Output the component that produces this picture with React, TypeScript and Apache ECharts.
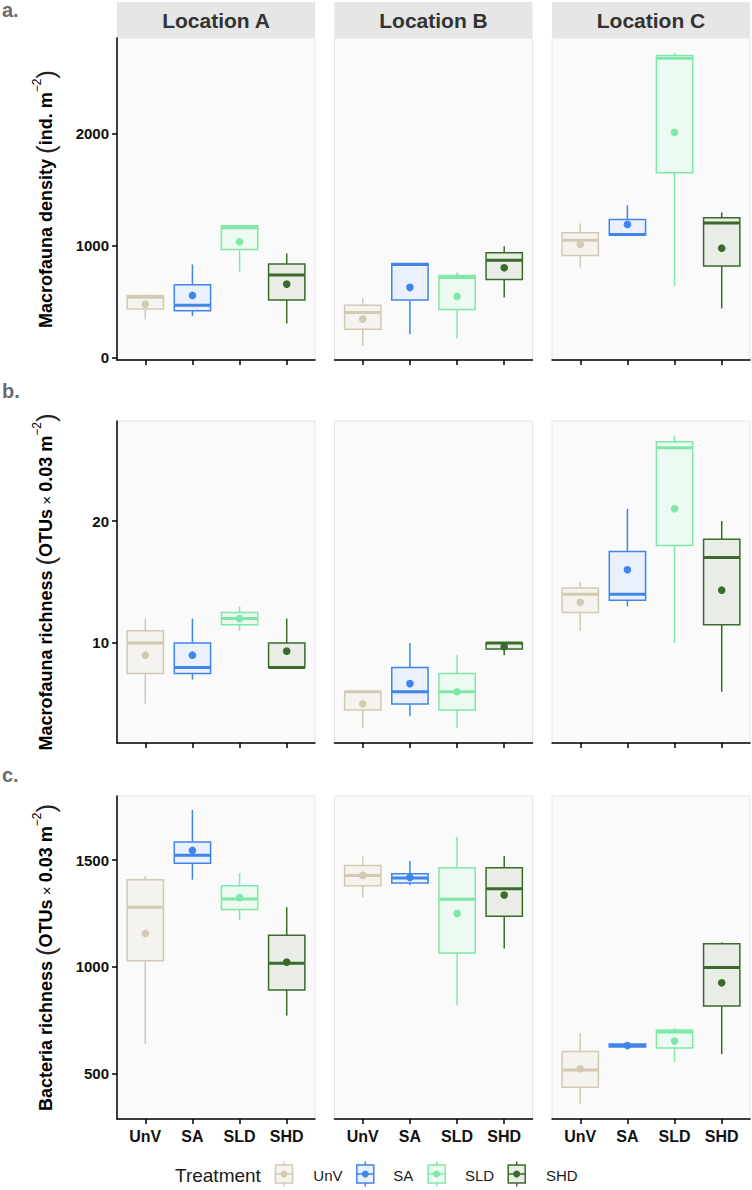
import React, { useEffect, useRef } from "react";
import * as echarts from "echarts";

// ---------------- DATA ----------------
const treatments = ["UnV", "SA", "SLD", "SHD"];
const locations = ["Location A", "Location B", "Location C"];
// each row: [min, q1, median, q3, max, mean]
const densityA = [[343, 435, 540, 557, 566, 479], [372, 420, 470, 652, 834, 557], [768, 968, 1161, 1179, 1179, 1036], [307, 516, 739, 837, 932, 658]];
const densityB = [[107, 254, 405, 470, 530, 345], [209, 515, 834, 843, 843, 629], [173, 432, 718, 736, 762, 548], [539, 700, 872, 938, 997, 804]];
const densityC = [[807, 914, 1051, 1116, 1200, 1012], [1096, 1096, 1102, 1236, 1363, 1191], [640, 1652, 2676, 2700, 2727, 2013], [441, 819, 1205, 1250, 1298, 979]];
const macroRichA = [[5, 7.5, 10, 11, 12, 9], [7, 7.5, 8, 10, 12, 9], [11, 11.5, 12, 12.5, 13, 12], [8, 8, 8, 10, 12, 9.33]];
const macroRichB = [[3, 4.5, 6, 6, 6, 5], [4, 5, 6, 8, 10, 6.67], [3, 4.5, 6, 7.5, 9, 6], [9, 9.5, 10, 10, 10, 9.7]];
const macroRichC = [[11, 12.5, 14, 14.5, 15, 13.33], [13, 13.5, 14, 17.5, 21, 16], [10, 18, 26, 26.5, 27, 21], [6, 11.5, 17, 18.5, 20, 14.33]];
const bactRichA = [[639, 1028, 1279, 1408, 1425, 1156], [1408, 1485, 1523, 1584, 1735, 1545], [1218, 1268, 1318, 1380, 1438, 1324], [771, 891, 1017, 1148, 1279, 1022]];
const bactRichB = [[1327, 1380, 1428, 1474, 1517, 1428], [1382, 1393, 1416, 1436, 1495, 1418], [820, 1065, 1316, 1464, 1609, 1250], [1086, 1237, 1366, 1464, 1519, 1336]];
const bactRichC = [[358, 436, 517, 603, 689, 522], [624, 624, 631, 638, 638, 631], [553, 619, 695, 704, 712, 652], [591, 816, 997, 1108, 1114, 925]];

const densityTicks = [0, 1000, 2000];
const macroRichTicks = [10, 20];
const bactRichTicks = [500, 1000, 1500];
const densityRange = [-20, 2857];
const macroRichRange = [1.8, 28.2];
const bactRichRange = [287, 1800];

const rowLetters = ["a.", "b.", "c."];

// ---------------- STYLE ----------------
const strokeColors = ["#D2CAB3", "#3F85EA", "#7FE8A9", "#3A6B2B"];
const fillColors = ["#F5F3EF", "#EAF1FC", "#EDFAF2", "#E9ECE7"];
const FONT = "'Liberation Sans', Arial, Helvetica, sans-serif";

const colLeft = [117, 334.5, 552];
const colW = 198;
const rowTop = [38, 421, 796];
const rowH = [322, 322, 323];

export default function App() {
  const ref = useRef<HTMLDivElement>(null);

  useEffect(() => {
    if (!ref.current) return;
    const chart = echarts.init(ref.current, undefined, { renderer: "svg" });

    const rows = [
      { sets: [densityA, densityB, densityC], ticks: densityTicks, range: densityRange },
      { sets: [macroRichA, macroRichB, macroRichC], ticks: macroRichTicks, range: macroRichRange },
      { sets: [bactRichA, bactRichB, bactRichC], ticks: bactRichTicks, range: bactRichRange },
    ];

    const grids: any[] = [];
    const xAxes: any[] = [];
    const yAxes: any[] = [];
    const series: any[] = [];

    const renderItem = (params: any, api: any) => {
      const x = api.value(0);
      const mn = api.value(1), q1 = api.value(2), md = api.value(3), q3 = api.value(4), mx = api.value(5), mean = api.value(6);
      const idx = Math.round(x) - 1;
      const stroke = strokeColors[idx];
      const fill = fillColors[idx];
      const cx = api.coord([x, md])[0];
      const yOf = (v: number) => api.coord([x, v])[1];
      const w = api.size([0.77, 0])[0];
      const children: any[] = [];
      if (mx > q3) children.push({ type: "line", shape: { x1: cx, y1: yOf(mx), x2: cx, y2: yOf(q3) }, style: { stroke, lineWidth: 1.5 } });
      if (mn < q1) children.push({ type: "line", shape: { x1: cx, y1: yOf(q1), x2: cx, y2: yOf(mn) }, style: { stroke, lineWidth: 1.5 } });
      children.push({ type: "rect", shape: { x: cx - w / 2, y: yOf(q3), width: w, height: yOf(q1) - yOf(q3) }, style: { fill, stroke, lineWidth: 1.5 } });
      children.push({ type: "line", shape: { x1: cx - w / 2, y1: yOf(md), x2: cx + w / 2, y2: yOf(md) }, style: { stroke, lineWidth: 3 } });
      children.push({ type: "circle", shape: { cx, cy: yOf(mean), r: 3.8 }, style: { fill: stroke } });
      return { type: "group", children };
    };

    rows.forEach((row, r) => {
      row.sets.forEach((set, c) => {
        const gi = r * 3 + c;
        grids.push({
          left: colLeft[c], top: rowTop[r], width: colW, height: rowH[r],
          show: true, backgroundColor: "#FAFAFA", borderColor: "#E6E6E6", borderWidth: 1,
        });
        xAxes.push({
          gridIndex: gi, type: "value", min: 0.4, max: 4.6,
          axisLine: { show: true, onZero: false, lineStyle: { color: "#000", width: 1.5 } },
          axisTick: { show: true, customValues: [1, 2, 3, 4], length: 5, lineStyle: { color: "#000", width: 1.5 } },
          axisLabel: {
            show: r === 2, customValues: [1, 2, 3, 4], margin: 9,
            formatter: (v: number) => treatments[Math.round(v) - 1],
            fontSize: 16, fontWeight: "bold", color: "#111", fontFamily: FONT,
          },
          splitLine: { show: false },
        });
        yAxes.push({
          gridIndex: gi, type: "value", min: row.range[0], max: row.range[1],
          axisLine: { show: c === 0, onZero: false, lineStyle: { color: "#000", width: 1.5 } },
          axisTick: { show: c === 0, customValues: row.ticks, length: 5, lineStyle: { color: "#000", width: 1.5 } },
          axisLabel: {
            show: c === 0, customValues: row.ticks, margin: 8,
            formatter: (v: number) => String(v),
            fontSize: 15, fontWeight: "bold", color: "#111", fontFamily: FONT,
          },
          splitLine: { show: false },
        });
        series.push({
          type: "custom",
          name: `${rowLetters[r]} ${locations[c]}`,
          xAxisIndex: gi, yAxisIndex: gi,
          renderItem,
          encode: { x: 0, y: [1, 2, 3, 4, 5, 6] },
          data: set.map((v, i) => [i + 1, ...v]),
        });
      });
    });

    const graphics: any[] = [];
    // facet strips
    locations.forEach((loc, c) => {
      graphics.push({ type: "rect", shape: { x: colLeft[c], y: 2, width: colW, height: 36 }, style: { fill: "#E6E6E6" }, silent: true });
      graphics.push({
        type: "text", x: colLeft[c] + colW / 2, y: 20.5,
        style: { text: loc, fill: "#333", fontSize: 21, fontWeight: "bold", fontFamily: FONT, align: "center", verticalAlign: "middle", textAlign: "center", textVerticalAlign: "middle" },
      });
    });
    // row letters
    const letterY = [10, 391, 775];
    rowLetters.forEach((l, r) => {
      graphics.push({
        type: "text", x: 2, y: letterY[r],
        style: { text: l, fill: "#6B6B6B", fontSize: 20, lineHeight: 18, fontWeight: "bold", fontFamily: FONT, align: "left", verticalAlign: "middle", textAlign: "left", textVerticalAlign: "middle" },
      });
    });
    // y titles
    const rich = {
      t: { fontSize: 18, fontWeight: "bold", fill: "#000", color: "#000", fontFamily: FONT },
      x: { fontSize: 15, fontWeight: "normal", fill: "#000", color: "#000", fontFamily: FONT },
      p: { fontSize: 26, lineHeight: 30, fontWeight: "normal", fill: "#222", color: "#222", fontFamily: FONT },
      s: { fontSize: 12, lineHeight: 16, verticalAlign: "top", fontWeight: "normal", fill: "#000", color: "#000", fontFamily: FONT },
    };
    const titles = [
      "{t|Macrofauna density }{p|(}{t|ind. m}{s|−2}{p|)}",
      "{t|Macrofauna richness }{p|(}{t|OTUs}{x| × }{t|0.03 m}{s|−2}{p|)}",
      "{t|Bacteria richness }{p|(}{t|OTUs}{x| × }{t|0.03 m}{s|−2}{p|)}",
    ];
    titles.forEach((t, r) => {
      graphics.push({
        type: "text", x: 46, y: rowTop[r] + rowH[r] / 2, rotation: Math.PI / 2,
        style: { text: t, rich, align: "center", verticalAlign: "middle", textAlign: "center", textVerticalAlign: "middle" },
      });
    });
    // legend
    const ly = 1174;
    graphics.push({
      type: "text", x: 175, y: ly + 1.5,
      style: { text: "Treatment", fill: "#1a1a1a", fontSize: 19, fontFamily: FONT, align: "left", verticalAlign: "middle", textAlign: "left", textVerticalAlign: "middle" },
    });
    const keyX = [284, 365.3, 436.7, 516.7];
    const labX = [313.3, 393.3, 465, 546];
    treatments.forEach((tr, i) => {
      const cx = keyX[i];
      graphics.push({ type: "line", shape: { x1: cx, y1: ly - 12.5, x2: cx, y2: ly + 12.5 }, style: { stroke: strokeColors[i], lineWidth: 1.5 } });
      graphics.push({ type: "rect", shape: { x: cx - 8.5, y: ly - 9, width: 17, height: 18 }, style: { fill: fillColors[i], stroke: strokeColors[i], lineWidth: 1.5 } });
      graphics.push({ type: "line", shape: { x1: cx - 8.5, y1: ly, x2: cx + 8.5, y2: ly }, style: { stroke: strokeColors[i], lineWidth: 1.5 } });
      graphics.push({ type: "circle", shape: { cx, cy: ly, r: 3.5 }, style: { fill: strokeColors[i] } });
      graphics.push({
        type: "text", x: labX[i], y: ly + 1.5,
        style: { text: tr, fill: "#1a1a1a", fontSize: 15, fontFamily: FONT, align: "left", verticalAlign: "middle", textAlign: "left", textVerticalAlign: "middle" },
      });
    });

    chart.setOption({
      animation: false,
      backgroundColor: "#ffffff",
      grid: grids,
      xAxis: xAxes,
      yAxis: yAxes,
      series,
      graphic: graphics,
    });

    return () => chart.dispose();
  }, []);

  return <div ref={ref} style={{ position: "absolute", left: 0, top: 0, width: 752, height: 1190 }} />;
}
